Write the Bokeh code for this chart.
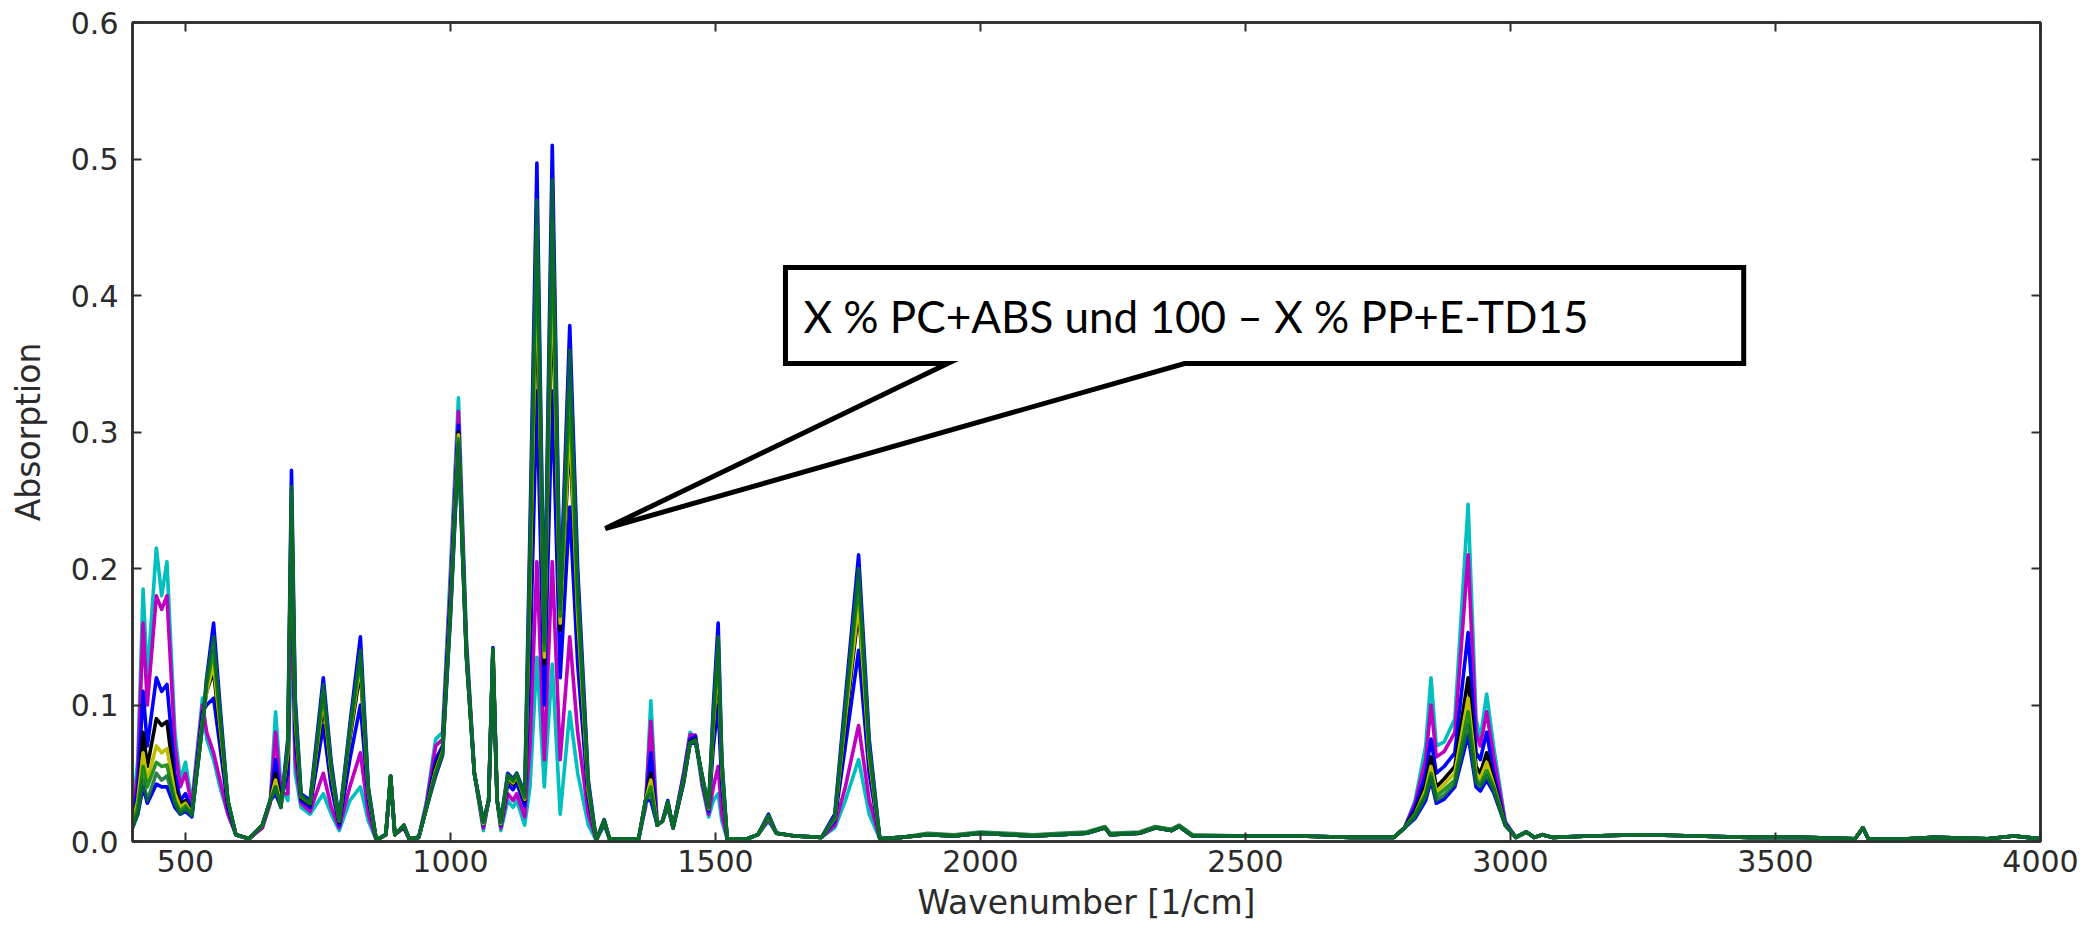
from bokeh.plotting import figure
from bokeh.models import (LinearAxis, FixedTicker, NumeralTickFormatter,
                          CustomLabelingPolicy, PolyAnnotation, Label, Range1d)
from bokeh.embed import file_html
from bokeh.resources import INLINE

# Wavenumber grid (1/cm) shared by all spectra
wavenumber = [
    400, 410, 420, 428, 445, 455, 465, 480, 490, 500,
    512, 532, 540, 553, 565, 580, 595, 620, 645, 660,
    670, 680, 693, 700, 707, 718, 735, 760, 775, 790,
    810, 830, 845, 860, 878, 887, 895, 912, 922, 940,
    955, 972, 985, 1000, 1015, 1030, 1045, 1062, 1072, 1080,
    1088, 1095, 1108, 1118, 1125, 1140, 1150, 1163, 1177, 1192,
    1207, 1225, 1240, 1260, 1275, 1290, 1300, 1355, 1368, 1378,
    1390, 1400, 1410, 1420, 1440, 1452, 1462, 1475, 1487, 1496,
    1505, 1512, 1522, 1560, 1580, 1600, 1615, 1650, 1700, 1725,
    1745, 1770, 1790, 1810, 1850, 1900, 1950, 2000, 2050, 2100,
    2150, 2200, 2235, 2245, 2300, 2330, 2360, 2375, 2400, 2500,
    2600, 2700, 2780, 2800, 2820, 2840, 2850, 2860, 2875, 2895,
    2920, 2935, 2943, 2955, 2968, 2990, 3010, 3030, 3045, 3060,
    3080, 3150, 3250, 3350, 3450, 3550, 3650, 3665, 3675, 3750,
    3800, 3900, 3950, 4000,
]

# Absorption spectra of the blends, from PP-rich to PC+ABS-rich
absorb_cyan = [
    .020, .060, .185, .120, .215, .180, .205, .080, .045, .058,
    .028, .105, .075, .060, .040, .020, .005, .002, .010, .030,
    .095, .040, .030, .170, .050, .025, .020, .035, .020, .008,
    .030, .040, .015, .001, .005, .045, .005, .010, .002, .003,
    .030, .075, .080, .200, .325, .150, .050, .008, .030, .125,
    .030, .008, .030, .025, .030, .012, .040, .135, .040, .130,
    .020, .095, .050, .012, .001, .012, .002, .002, .025, .103,
    .012, .015, .025, .010, .050, .080, .075, .040, .018, .030,
    .035, .015, .002, .002, .005, .015, .006, .004, .003, .010,
    .030, .060, .020, .002, .003, .005, .004, .006, .005, .004,
    .005, .006, .010, .005, .006, .010, .008, .011, .004, .004,
    .004, .003, .003, .010, .030, .070, .120, .070, .073, .090,
    .247, .090, .075, .108, .070, .015, .003, .007, .003, .005,
    .003, .004, .005, .004, .003, .003, .002, .010, .002, .002,
    .003, .002, .004, .002,
]
absorb_magenta = [
    .020, .050, .160, .100, .180, .170, .180, .070, .040, .050,
    .026, .100, .080, .065, .045, .020, .005, .002, .010, .028,
    .080, .035, .035, .200, .060, .028, .022, .050, .025, .010,
    .040, .065, .020, .001, .005, .046, .005, .010, .002, .003,
    .028, .070, .075, .190, .315, .145, .050, .010, .030, .130,
    .030, .010, .035, .030, .035, .018, .070, .205, .060, .205,
    .060, .150, .080, .020, .001, .013, .002, .002, .026, .088,
    .012, .015, .026, .010, .050, .078, .078, .042, .020, .040,
    .055, .020, .002, .002, .005, .016, .006, .004, .003, .012,
    .040, .085, .030, .002, .003, .005, .004, .006, .005, .004,
    .005, .006, .010, .005, .006, .010, .008, .011, .004, .004,
    .004, .003, .003, .010, .028, .060, .100, .062, .066, .080,
    .210, .080, .070, .095, .062, .014, .003, .007, .003, .005,
    .003, .004, .005, .004, .003, .003, .002, .010, .002, .002,
    .003, .002, .004, .002,
]
absorb_blue_mid = [
    .015, .040, .110, .070, .120, .110, .115, .050, .030, .035,
    .022, .095, .100, .105, .070, .025, .005, .002, .012, .030,
    .060, .030, .050, .230, .075, .030, .025, .085, .040, .012,
    .060, .100, .030, .001, .005, .047, .005, .011, .002, .003,
    .026, .060, .070, .180, .305, .140, .050, .012, .030, .137,
    .030, .012, .042, .038, .043, .026, .130, .330, .100, .330,
    .120, .245, .130, .030, .001, .014, .002, .002, .028, .065,
    .012, .015, .027, .010, .048, .075, .077, .045, .022, .070,
    .100, .040, .002, .002, .005, .017, .006, .004, .003, .015,
    .070, .140, .050, .002, .003, .005, .004, .006, .005, .004,
    .005, .006, .010, .005, .006, .010, .008, .011, .004, .004,
    .004, .003, .003, .010, .025, .050, .075, .050, .055, .065,
    .153, .065, .060, .080, .050, .013, .003, .007, .003, .005,
    .003, .004, .005, .004, .003, .003, .002, .010, .002, .002,
    .003, .002, .004, .002,
]
absorb_black = [
    .015, .030, .080, .055, .090, .085, .088, .040, .028, .030,
    .020, .090, .110, .125, .080, .028, .005, .002, .012, .030,
    .050, .028, .060, .245, .085, .032, .027, .100, .048, .014,
    .075, .125, .035, .001, .005, .048, .005, .011, .002, .003,
    .025, .055, .068, .175, .300, .138, .050, .013, .030, .140,
    .030, .013, .046, .042, .047, .030, .170, .410, .130, .410,
    .155, .300, .160, .035, .001, .015, .002, .002, .030, .050,
    .012, .015, .028, .010, .045, .073, .075, .046, .024, .080,
    .130, .050, .002, .002, .005, .018, .006, .004, .003, .017,
    .085, .170, .060, .002, .003, .005, .004, .006, .005, .004,
    .005, .006, .010, .005, .006, .010, .008, .011, .004, .004,
    .004, .003, .003, .010, .022, .042, .062, .040, .046, .055,
    .120, .055, .050, .065, .045, .012, .003, .007, .003, .005,
    .003, .004, .005, .004, .003, .003, .002, .010, .002, .002,
    .003, .002, .004, .002,
]
absorb_yellow = [
    .012, .030, .065, .045, .070, .065, .068, .035, .025, .028,
    .020, .088, .110, .130, .085, .030, .005, .002, .012, .030,
    .045, .026, .065, .250, .090, .033, .028, .105, .050, .015,
    .078, .130, .036, .001, .005, .048, .005, .012, .002, .003,
    .025, .052, .066, .170, .298, .137, .050, .013, .030, .140,
    .030, .013, .047, .043, .048, .031, .185, .430, .135, .430,
    .160, .310, .165, .037, .001, .015, .002, .002, .030, .045,
    .012, .015, .028, .010, .045, .072, .074, .047, .024, .085,
    .135, .052, .002, .002, .005, .018, .006, .004, .003, .017,
    .090, .175, .062, .002, .003, .005, .004, .006, .005, .004,
    .005, .006, .010, .005, .006, .010, .008, .011, .004, .004,
    .004, .003, .003, .010, .020, .038, .055, .036, .042, .050,
    .105, .050, .046, .058, .042, .012, .003, .007, .003, .005,
    .003, .004, .005, .004, .003, .003, .002, .010, .002, .002,
    .003, .002, .004, .002,
]
absorb_green_a = [
    .012, .025, .055, .040, .058, .055, .056, .030, .022, .026,
    .020, .085, .115, .140, .090, .030, .005, .002, .012, .030,
    .040, .025, .070, .255, .095, .033, .028, .110, .052, .015,
    .080, .135, .037, .001, .005, .048, .005, .012, .002, .003,
    .025, .050, .065, .170, .295, .136, .050, .014, .030, .141,
    .030, .014, .048, .044, .049, .032, .200, .450, .140, .455,
    .165, .330, .175, .040, .001, .015, .002, .002, .030, .040,
    .012, .015, .029, .010, .045, .072, .074, .047, .025, .090,
    .140, .055, .002, .002, .005, .019, .006, .004, .003, .018,
    .095, .190, .066, .002, .003, .005, .004, .006, .005, .004,
    .005, .006, .010, .005, .006, .010, .008, .011, .004, .004,
    .004, .003, .003, .010, .020, .035, .050, .033, .038, .045,
    .095, .046, .042, .052, .040, .012, .003, .007, .003, .005,
    .003, .004, .005, .004, .003, .003, .002, .010, .002, .002,
    .003, .002, .004, .002,
]
absorb_green_b = [
    .010, .020, .045, .030, .050, .045, .048, .028, .020, .024,
    .019, .085, .120, .150, .095, .030, .005, .002, .012, .030,
    .040, .025, .070, .260, .100, .034, .028, .115, .055, .015,
    .082, .140, .038, .001, .005, .048, .005, .012, .002, .003,
    .025, .050, .064, .168, .292, .135, .050, .014, .030, .141,
    .030, .014, .049, .045, .050, .033, .215, .470, .145, .485,
    .170, .360, .190, .042, .001, .016, .002, .002, .030, .035,
    .012, .015, .029, .010, .044, .072, .074, .048, .025, .095,
    .150, .058, .002, .002, .005, .019, .006, .004, .003, .018,
    .100, .200, .070, .002, .003, .006, .005, .007, .006, .005,
    .006, .007, .011, .006, .007, .011, .009, .012, .005, .004,
    .004, .003, .003, .010, .018, .033, .047, .030, .034, .042,
    .085, .043, .040, .048, .038, .012, .003, .007, .003, .005,
    .003, .004, .005, .004, .003, .003, .002, .010, .002, .002,
    .003, .002, .004, .002,
]
absorb_blue_high = [
    .010, .020, .040, .028, .042, .040, .040, .025, .020, .022,
    .018, .085, .120, .160, .100, .030, .005, .002, .012, .030,
    .035, .025, .075, .272, .105, .035, .030, .120, .058, .016,
    .085, .150, .040, .001, .005, .048, .005, .012, .002, .003,
    .025, .048, .063, .165, .290, .135, .050, .015, .030, .142,
    .030, .015, .050, .046, .050, .035, .230, .497, .150, .510,
    .175, .378, .200, .045, .001, .016, .002, .002, .030, .030,
    .012, .015, .030, .010, .043, .072, .073, .048, .025, .100,
    .160, .060, .002, .002, .005, .020, .006, .004, .003, .020,
    .105, .210, .075, .002, .003, .005, .004, .006, .005, .004,
    .005, .006, .010, .005, .006, .010, .008, .011, .004, .004,
    .004, .003, .003, .010, .017, .030, .045, .028, .031, .040,
    .078, .040, .037, .045, .036, .012, .003, .007, .003, .005,
    .003, .004, .005, .004, .003, .003, .002, .010, .002, .002,
    .003, .002, .004, .002,
]

x_tick_values = [500, 1000, 1500, 2000, 2500, 3000, 3500, 4000]
y_tick_values = [0.0, 0.1, 0.2, 0.3, 0.4, 0.5, 0.6]
callout_text = "X % PC+ABS und 100 \u2013 X % PP+E-TD15"

# drawing order: later lines sit on top
traces = [
    (absorb_cyan, "#00bfbf", 1.0),
    (absorb_magenta, "#bf00bf", 1.0),
    (absorb_blue_mid, "#0000ff", 1.0),
    (absorb_black, "#000000", 1.0),
    (absorb_yellow, "#bfbf00", 1.0),
    (absorb_blue_high, "#0000ff", 1.0),
    (absorb_green_a, "#008000", 0.85),
    (absorb_green_b, "#0a6a2a", 0.85),
]

FRAME = "#2e2e2e"
TEXT = "#2b2b2b"
TICK_FONT = "DejaVu Sans"

p = figure(width=2095, height=931,
           x_range=Range1d(400, 4000), y_range=Range1d(0, 0.6),
           output_backend="svg", toolbar_location=None,
           min_border_left=132, min_border_right=55,
           min_border_top=22, min_border_bottom=90,
           background_fill_color="white", border_fill_color="white")
p.xgrid.visible = False
p.ygrid.visible = False
p.outline_line_color = FRAME
p.outline_line_width = 2.5

for ys, color, alpha in traces:
    p.line(wavenumber, ys, line_color=color, line_width=3.6, line_alpha=alpha,
           line_join="round")

# tick marks only, no labels, for the top and right edges
no_labels = CustomLabelingPolicy(code="""
    for (let i = 0; i < indices.size; i++) { indices.unset(i) }
    return indices
""")


def style_axis(ax, show_labels):
    ax.axis_line_color = FRAME
    ax.axis_line_width = 2.5
    ax.major_tick_line_color = FRAME
    ax.major_tick_line_width = 2
    ax.major_tick_in = 9
    ax.major_tick_out = 0
    ax.minor_tick_line_color = None
    if show_labels:
        ax.major_label_text_font = TICK_FONT
        ax.major_label_text_font_size = "30px"
        ax.major_label_text_color = TEXT
        ax.axis_label_text_font = TICK_FONT
        ax.axis_label_text_font_size = "33px"
        ax.axis_label_text_font_style = "normal"
        ax.axis_label_text_color = TEXT
    else:
        ax.major_label_policy = no_labels
        ax.major_label_standoff = 0


p.xaxis.ticker = FixedTicker(ticks=x_tick_values)
p.yaxis.ticker = FixedTicker(ticks=y_tick_values)
p.yaxis.formatter = NumeralTickFormatter(format="0.0")
p.xaxis.axis_label = "Wavenumber [1/cm]"
p.yaxis.axis_label = "Absorption"
style_axis(p.xaxis[0], True)
style_axis(p.yaxis[0], True)
p.xaxis.major_label_standoff = 8
p.yaxis.major_label_standoff = 14
p.xaxis.axis_label_standoff = 8
p.yaxis.axis_label_standoff = 20

top = LinearAxis(ticker=FixedTicker(ticks=x_tick_values))
right = LinearAxis(ticker=FixedTicker(ticks=y_tick_values))
style_axis(top, False)
style_axis(right, False)
p.add_layout(top, "above")
p.add_layout(right, "right")

# speech-bubble callout pointing at the carbonate bands
bubble = PolyAnnotation(
    xs=[1632, 3440, 3440, 2385, 1292, 1938, 1632],
    ys=[0.4205, 0.4205, 0.3502, 0.3502, 0.2293, 0.3502, 0.3502],
    xs_units="data", ys_units="data",
    fill_color="white", fill_alpha=1.0,
    line_color="black", line_alpha=1.0, line_width=5, line_join="miter",
)
p.add_layout(bubble)
p.add_layout(Label(x=1666, y=0.385, text=callout_text,
                   text_font="Lato", text_font_size="44px",
                   text_color="black", text_baseline="middle",
                   text_align="left"))

open("out.html", "w").write(file_html(p, INLINE))
